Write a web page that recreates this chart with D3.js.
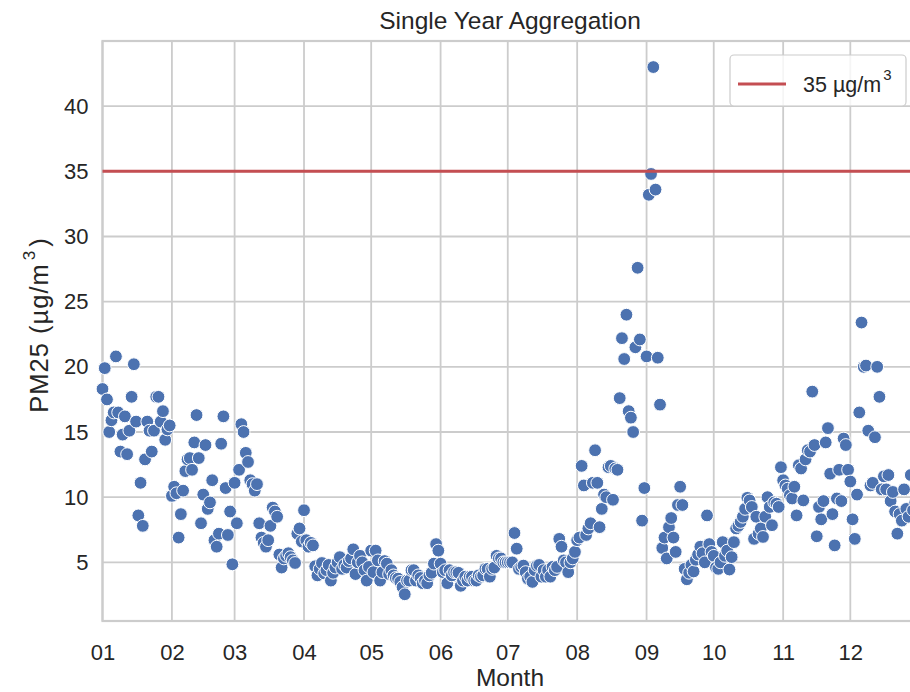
<!DOCTYPE html>
<html>
<head>
<meta charset="utf-8">
<script src="https://cdn.jsdelivr.net/npm/d3@7"></script>
<style>
  body { margin: 0; background: #fff; }
  text { font-family: "Liberation Sans", Arial, sans-serif; fill: #262626; }
</style>
</head>
<body>
<div id="chart"></div>
<script>
// daily PM2.5 means, one array per month (ug/m3)
var jan = [18.3, 19.9, 17.5, 15.0, 15.9, 16.5, 20.8, 16.5, 13.5, 14.8, 16.2, 13.3, 15.1, 17.7, 20.2, 15.8,
  8.6, 11.1, 7.8, 12.9, 15.8, 15.1, 13.5, 15.1, 17.7, 17.7, 15.8, 16.6, 14.4, 15.2, 15.5]
var feb = [10.1, 10.8, 10.3, 6.9, 8.7, 10.5, 12.0, 12.9, 13.0, 12.1, 14.2, 16.3, 13.0, 8.0, 10.2, 14.0,
  9.1, 9.6, 11.3, 6.7, 6.2, 7.2, 14.1, 16.2, 10.7, 7.1, 8.9, 4.85]
var mar = [11.1, 8.0, 12.1, 15.6, 15.0, 13.4, 12.7, 11.3, 11.0, 10.5, 11.0, 8.0, 6.9, 6.5, 6.2, 6.7,
  7.8, 9.2, 8.9, 8.5, 5.6, 4.6, 5.3, 5.5, 5.7, 5.4, 5.15, 4.95, 7.2, 7.6, 6.6]
var apr = [9.0, 6.7, 6.2, 6.5, 6.3, 4.7, 4.0, 4.5, 4.95, 4.15, 4.4, 4.8, 3.6, 4.2, 4.6, 5.0,
  5.4, 4.5, 4.8, 4.6, 5.1, 5.3, 6.0, 4.1, 5.0, 5.5, 5.0, 4.4, 3.6, 4.65]
var may = [5.9, 4.25, 5.9, 5.15, 3.6, 4.25, 5.1, 4.9, 4.1, 4.4, 4.0, 3.8, 3.75, 3.5, 3.1, 2.55,
  3.6, 3.6, 4.4, 4.4, 3.6, 4.0, 3.8, 3.4, 3.6, 3.4, 4.0, 4.2, 4.9, 6.4, 5.9]
var jun = [4.9, 4.25, 4.4, 3.4, 4.4, 4.0, 4.25, 4.25, 4.2, 3.2, 3.6, 3.9, 3.6, 3.9, 3.9, 3.6,
  3.6, 4.0, 3.9, 4.0, 4.5, 4.5, 3.9, 4.5, 4.6, 5.5, 5.3, 5.3, 5.0, 5.0]
var jul = [5.0, 5.0, 5.0, 7.25, 6.05, 4.5, 4.65, 4.75, 4.25, 3.75, 3.9, 3.5, 4.4, 4.75, 4.8, 3.9,
  4.4, 3.9, 4.4, 3.9, 4.65, 4.4, 4.65, 6.8, 6.2, 5.15, 5.0, 4.25, 5.0, 5.3, 5.8]
var aug = [6.7, 6.9, 12.4, 10.9, 7.1, 7.6, 8.0, 11.1, 13.6, 11.1, 7.7, 9.1, 10.2, 10.0, 12.3, 12.4,
  9.8, 12.2, 12.1, 17.6, 22.2, 20.6, 24.0, 16.6, 16.1, 15.0, 21.5, 27.6, 22.1, 8.2, 10.7]
var sep = [20.8, 33.2, 34.8, 43.0, 33.6, 20.7, 17.1, 6.1, 6.9, 5.3, 7.7, 8.4, 6.9, 5.8, 9.4, 10.8,
  9.4, 4.5, 3.7, 4.2, 4.8, 4.3, 5.2, 5.6, 6.2, 5.7, 5.0, 8.6, 6.4, 5.8]
var oct = [5.5, 4.6, 4.5, 5.0, 6.55, 5.5, 5.9, 4.45, 5.4, 6.55, 7.6, 7.8, 8.1, 8.5, 9.1, 9.95,
  9.75, 9.25, 6.8, 8.5, 7.2, 7.6, 6.95, 8.5, 10.0, 9.25, 7.85, 9.6, 9.5, 9.25, 12.3]
var nov = [11.3, 10.9, 10.65, 10.15, 9.9, 10.8, 8.6, 12.45, 12.2, 9.75, 12.9, 13.6, 13.5, 18.1, 14.0, 7.0,
  9.25, 8.3, 9.7, 14.2, 15.3, 11.8, 8.7, 6.3, 9.9, 12.1, 9.7, 14.5, 14.0, 12.1]
var dec = [11.2, 8.3, 6.8, 10.2, 16.5, 23.4, 20.0, 20.1, 15.1, 10.9, 11.1, 14.6, 20.0, 17.7, 10.6, 11.6,
  10.6, 11.7, 9.7, 10.4, 8.9, 7.2, 8.7, 8.2, 10.6, 9.1, 8.5, 11.7, 9.0, 9.6, 10.3]

var months = [jan, feb, mar, apr, may, jun, jul, aug, sep, oct, nov, dec]
var yTicks = [5, 10, 15, 20, 25, 30, 35, 40]
var limit = 35
var year = 2019

var data = []
months.forEach(function (vals, m) {
  vals.forEach(function (v, i) {
    data.push({ date: new Date(year, m, i + 1), value: v })
  })
})

var width = 910, height = 692
var pLeft = 102.5, pRight = 917.5, pTop = 41, pBottom = 621

var svg = d3.select("#chart").append("svg")
  .attr("width", width)
  .attr("height", height)

var x = d3.scaleTime()
  .domain([new Date(year, 0, 1), new Date(year, 11, 31)])
  .range([pLeft, pRight])

var y = d3.scaleLinear()
  .domain([0.5, 45.0])
  .range([pBottom, pTop])

var grid = "#cccccc"

// grid
svg.append("g")
  .selectAll("line")
  .data(x.ticks(d3.timeMonth.every(1)))
  .join("line")
  .attr("x1", d => x(d)).attr("x2", d => x(d))
  .attr("y1", pTop).attr("y2", pBottom)
  .attr("stroke", grid).attr("stroke-width", 1.8)

svg.append("g")
  .selectAll("line")
  .data(yTicks)
  .join("line")
  .attr("x1", pLeft).attr("x2", pRight)
  .attr("y1", d => y(d)).attr("y2", d => y(d))
  .attr("stroke", grid).attr("stroke-width", 1.8)

// frame
svg.append("rect")
  .attr("x", pLeft).attr("y", pTop)
  .attr("width", pRight - pLeft).attr("height", pBottom - pTop)
  .attr("fill", "none").attr("stroke", grid).attr("stroke-width", 2.2)

// axes (labels only, whitegrid style)
var xAxis = svg.append("g")
  .attr("transform", `translate(0,${pBottom})`)
  .call(d3.axisBottom(x).ticks(d3.timeMonth.every(1)).tickFormat(d3.timeFormat("%m")).tickSize(0).tickPadding(23))
xAxis.select(".domain").remove()
xAxis.selectAll("text").attr("font-size", 22).attr("fill", "#262626")

var yAxis = svg.append("g")
  .attr("transform", `translate(${pLeft},0)`)
  .call(d3.axisLeft(y).tickValues(yTicks).tickSize(0).tickPadding(14))
yAxis.select(".domain").remove()
yAxis.selectAll("text").attr("font-size", 22).attr("fill", "#262626")

// points
svg.append("g")
  .selectAll("circle")
  .data(data)
  .join("circle")
  .attr("cx", d => x(d.date))
  .attr("cy", d => y(d.value))
  .attr("r", 6.4)
  .attr("fill", "#4c72b0")
  .attr("stroke", "#fff")
  .attr("stroke-width", 1)

// 35 ug/m3 line
svg.append("line")
  .attr("x1", pLeft).attr("x2", pRight)
  .attr("y1", y(limit)).attr("y2", y(limit))
  .attr("stroke", "#c44e52").attr("stroke-width", 3)

// title + labels
svg.append("text")
  .attr("x", (pLeft + pRight) / 2).attr("y", 29)
  .attr("text-anchor", "middle")
  .attr("font-size", 24.5)
  .text("Single Year Aggregation")

svg.append("text")
  .attr("x", (pLeft + pRight) / 2).attr("y", 686)
  .attr("text-anchor", "middle")
  .attr("font-size", 24.5)
  .text("Month")

var yl = svg.append("text")
  .attr("transform", `translate(48,${(pTop + pBottom) / 2 - 6}) rotate(-90)`)
  .attr("text-anchor", "middle")
  .attr("font-size", 25.5)
  .attr("letter-spacing", 1)
yl.append("tspan").text("PM25 (µg/m")
yl.append("tspan").attr("font-size", 17).attr("dx", 3).attr("dy", -13).text("3")
yl.append("tspan").attr("dx", 3).attr("dy", 13).text(")")

// legend
var lg = svg.append("g")
lg.append("rect")
  .attr("x", 730).attr("y", 55).attr("width", 176).attr("height", 51).attr("rx", 4)
  .attr("fill", "#fff").attr("fill-opacity", 0.8)
  .attr("stroke", grid).attr("stroke-width", 1.2)
lg.append("line")
  .attr("x1", 738).attr("x2", 786).attr("y1", 84).attr("y2", 84)
  .attr("stroke", "#c44e52").attr("stroke-width", 3)
var lt = lg.append("text")
  .attr("x", 803).attr("y", 92)
  .attr("font-size", 21.5)
lt.append("tspan").text("35 µg/m")
lt.append("tspan").attr("font-size", 15).attr("dx", 2).attr("dy", -12).text("3")
</script>
</body>
</html>
